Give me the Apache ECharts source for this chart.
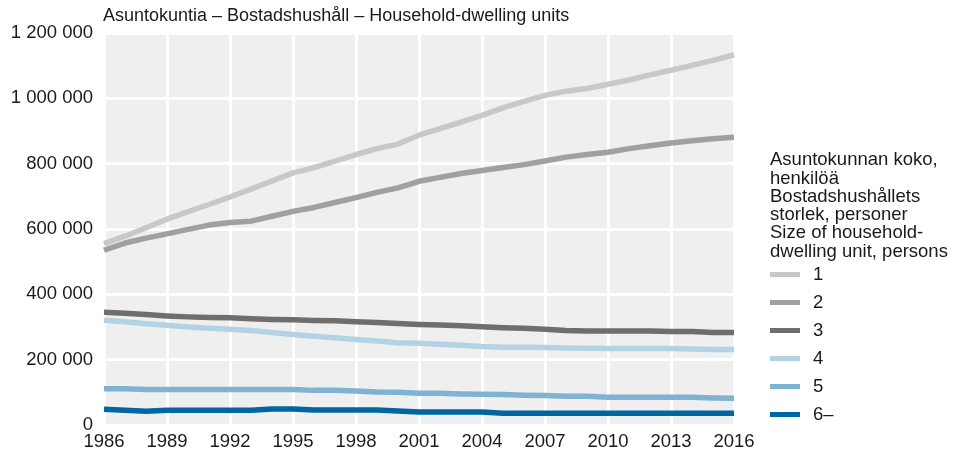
<!DOCTYPE html>
<html>
<head>
<meta charset="utf-8">
<script src="https://cdn.jsdelivr.net/npm/echarts@6/dist/echarts.min.js"></script>
<style>
  html, body { margin: 0; padding: 0; background: #fff; }
  #chart { width: 954px; height: 451px; }
</style>
</head>
<body>
<div id="chart"></div>
<script>
const years = [];
for (let y = 1986; y <= 2016; y++) years.push(y);

const seriesNames = ["1", "2", "3", "4", "5", "6–"];
const colors = ["#c8c8c8", "#a0a0a0", "#6e6e6e", "#b4d2e6", "#80b2d3", "#0066a1"];

const size1 = [555000, 578000, 604000, 630000, 653000, 675000, 698000, 722000, 747000, 772000,
  788000, 808000, 828000, 846000, 860000, 887000, 907000, 927000, 948000, 971000,
  991000, 1009000, 1022000, 1030000, 1043000, 1056000, 1072000, 1086000, 1101000, 1116000, 1133000];
const size2 = [535000, 557000, 572000, 585000, 599000, 612000, 620000, 624000, 639000, 654000,
  666000, 681000, 696000, 712000, 726000, 746000, 758000, 770000, 779000, 788000,
  797000, 808000, 820000, 828000, 835000, 846000, 855000, 863000, 870000, 876000, 881000];
const size3 = [345000, 342000, 338000, 334000, 331000, 329000, 328000, 325000, 323000, 322000,
  320000, 319000, 316000, 314000, 311000, 308000, 306000, 304000, 301000, 298000,
  296000, 293000, 289000, 288000, 288000, 288000, 288000, 286000, 286000, 283000, 283000];
const size4 = [321000, 316000, 310000, 305000, 300000, 296000, 293000, 289000, 283000, 277000,
  272000, 267000, 262000, 257000, 252000, 250000, 247000, 244000, 240000, 238000,
  238000, 237000, 236000, 235000, 234000, 234000, 234000, 234000, 233000, 231000, 231000];
const size5 = [111000, 111000, 109000, 109000, 109000, 109000, 109000, 109000, 109000, 109000,
  106000, 106000, 104000, 101000, 100000, 97000, 97000, 95000, 94000, 93000,
  91000, 90000, 88000, 88000, 85000, 85000, 85000, 85000, 85000, 83000, 82000];
const size6 = [48000, 45000, 42000, 45000, 45000, 45000, 45000, 45000, 49000, 49000,
  46000, 46000, 46000, 46000, 43000, 40000, 40000, 40000, 40000, 36000,
  36000, 36000, 36000, 36000, 36000, 36000, 36000, 36000, 36000, 36000, 36000];

const allValues = [size1, size2, size3, size4, size5, size6];

const font = "'Liberation Sans', Arial, sans-serif";
const txt = "#1a1a1a";
const chart = echarts.init(document.getElementById("chart"), null, { renderer: "canvas" });

chart.setOption({
  animation: false,
  backgroundColor: "#fff",
  textStyle: { fontFamily: font },
  title: [
    {
      text: "Asuntokuntia – Bostadshushåll – Household-dwelling units",
      left: 103,
      top: 7,
      padding: 0,
      textStyle: { fontFamily: font, fontSize: 18, fontWeight: "normal", color: txt }
    },
    {
      text: "Asuntokunnan koko,\nhenkilöä\nBostadshushållets\nstorlek, personer\nSize of household-\ndwelling unit, persons",
      left: 770,
      top: 151,
      padding: 0,
      textStyle: { fontFamily: font, fontSize: 18.5, fontWeight: "normal", color: txt, lineHeight: 18.3 }
    }
  ],
  legend: {
    orient: "vertical",
    left: 770,
    top: 265,
    padding: 0,
    itemWidth: 30,
    itemHeight: 5,
    itemGap: 9,
    icon: "rect",
    data: seriesNames,
    textStyle: { fontFamily: font, fontSize: 18.5, color: txt, padding: [0, 0, 0, 8] }
  },
  grid: {
    left: 104,
    right: 220,
    top: 33,
    bottom: 25,
    show: true,
    backgroundColor: "#efefef",
    borderWidth: 0
  },
  xAxis: {
    type: "value",
    min: 1986,
    max: 2016,
    interval: 3,
    axisLine: { show: false },
    axisTick: { show: false },
    axisLabel: {
      formatter: (v) => String(v),
      fontFamily: font,
      fontSize: 18.5,
      color: txt,
      margin: 7
    },
    splitLine: { show: true, lineStyle: { color: "#ffffff", width: 3 } }
  },
  yAxis: {
    type: "value",
    min: 0,
    max: 1200000,
    interval: 200000,
    axisLine: { show: false },
    axisTick: { show: false },
    axisLabel: {
      formatter: (v) => String(v).replace(/\B(?=(\d{3})+(?!\d))/g, " "),
      fontFamily: font,
      fontSize: 18.5,
      color: txt,
      margin: 11
    },
    splitLine: { show: true, lineStyle: { color: "#ffffff", width: 3 } }
  },
  series: seriesNames.map((name, i) => ({
    name: name,
    type: "line",
    showSymbol: false,
    symbol: "none",
    color: colors[i],
    lineStyle: { color: colors[i], width: 5.5, join: "round", cap: "butt" },
    data: years.map((yr, k) => [yr, allValues[i][k]])
  }))
});
</script>
</body>
</html>
